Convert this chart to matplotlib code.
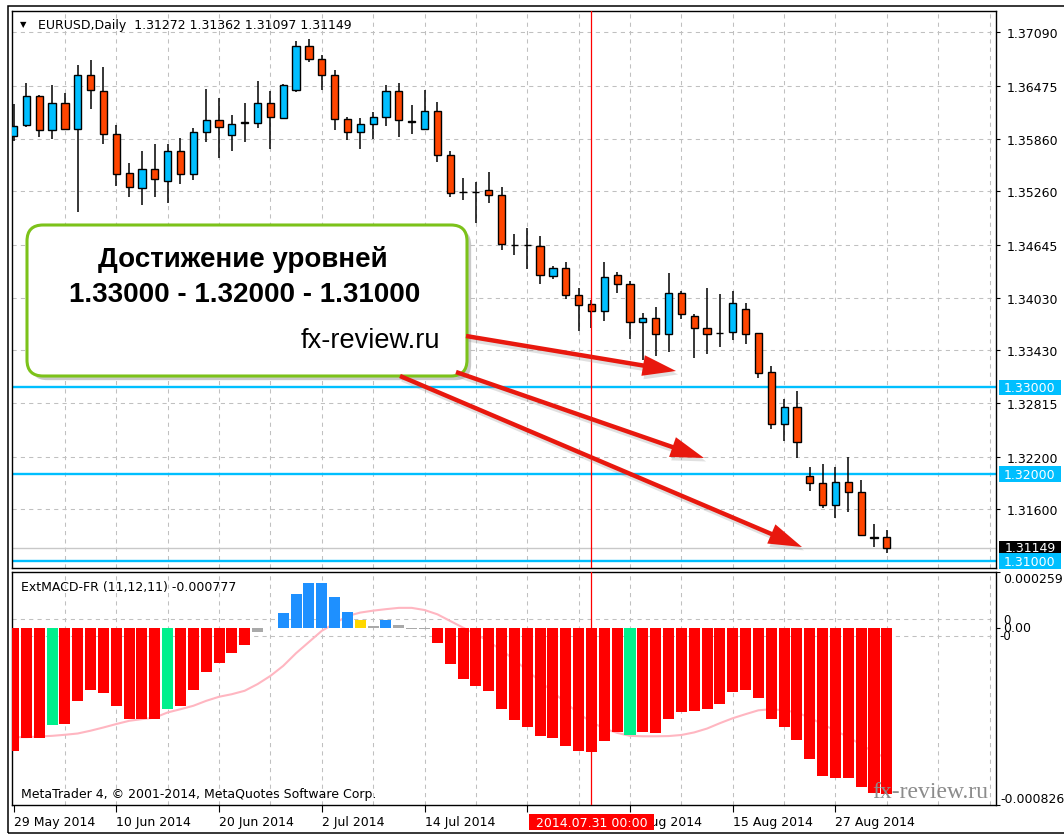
import matplotlib
matplotlib.use("Agg")
import matplotlib.pyplot as plt
import matplotlib.patheffects as pe
from matplotlib.patches import FancyBboxPatch, FancyArrowPatch, Rectangle
from matplotlib.transforms import IdentityTransform, blended_transform_factory

# EURUSD daily bars, 29 May 2014 .. 2 Sep 2014
opens = [1.35898, 1.36017, 1.36353, 1.35968, 1.36280, 1.35979, 1.36595, 1.36410, 1.35921, 1.35467,
         1.35294, 1.35517, 1.35382, 1.35721, 1.35459, 1.35941, 1.36075, 1.35902, 1.36049, 1.36049,
         1.36280, 1.36106, 1.36422, 1.36931, 1.36777, 1.36595, 1.36095, 1.35941, 1.36037, 1.36115,
         1.36410, 1.36064, 1.35979, 1.36184, 1.35671, 1.35247, 1.35247, 1.35274, 1.35220, 1.34642,
         1.34645, 1.34623, 1.34283, 1.34380, 1.34064, 1.33956, 1.33879, 1.34291, 1.34195, 1.33751,
         1.33802, 1.33617, 1.34091, 1.33821, 1.33679, 1.33629, 1.33636, 1.33898, 1.33621, 1.33173,
         1.32577, 1.32780, 1.31983, 1.31895, 1.31644, 1.31906, 1.31798, 1.31265, 1.31272]
highs = [1.36268, 1.36508, 1.36364, 1.36488, 1.36395, 1.36711, 1.36769, 1.36693, 1.36017, 1.35583,
         1.35728, 1.35798, 1.35798, 1.35872, 1.35987, 1.36434, 1.36338, 1.36133, 1.36280, 1.36526,
         1.36415, 1.36500, 1.36993, 1.37012, 1.36827, 1.36653, 1.36115, 1.36103, 1.36172, 1.36488,
         1.36508, 1.36249, 1.36422, 1.36288, 1.35728, 1.35413, 1.35363, 1.35486, 1.35305, 1.34765,
         1.34831, 1.34739, 1.34399, 1.34445, 1.34141, 1.34002, 1.34445, 1.34334, 1.34225, 1.33860,
         1.33925, 1.34314, 1.34110, 1.33840, 1.34149, 1.34072, 1.34110, 1.33976, 1.33629, 1.33243,
         1.32866, 1.32954, 1.32087, 1.32118, 1.32087, 1.32195, 1.31933, 1.31432, 1.31362]
lows = [1.35841, 1.35999, 1.35883, 1.35864, 1.35960, 1.35016, 1.36202, 1.35806, 1.35324, 1.35190,
        1.35101, 1.35190, 1.35124, 1.35343, 1.35393, 1.35826, 1.35641, 1.35728, 1.35826, 1.35987,
        1.35748, 1.36087, 1.36404, 1.36750, 1.36422, 1.35960, 1.35844, 1.35748, 1.35864, 1.36010,
        1.35883, 1.35921, 1.35960, 1.35601, 1.35197, 1.35158, 1.34893, 1.35120, 1.34584, 1.34526,
        1.34361, 1.34195, 1.34245, 1.34022, 1.33647, 1.33687, 1.33763, 1.34083, 1.33560, 1.33320,
        1.33358, 1.33409, 1.33783, 1.33340, 1.33386, 1.33462, 1.33551, 1.33502, 1.33109, 1.32519,
        1.32384, 1.32184, 1.31809, 1.31606, 1.31497, 1.31566, 1.31290, 1.31162, 1.31097]
closes = [1.36014, 1.36353, 1.35968, 1.36280, 1.35979, 1.36595, 1.36430, 1.35921, 1.35459, 1.35305,
          1.35517, 1.35401, 1.35721, 1.35459, 1.35941, 1.36075, 1.35999, 1.36037, 1.36052, 1.36280,
          1.36115, 1.36480, 1.36931, 1.36777, 1.36595, 1.36087, 1.35941, 1.36037, 1.36115, 1.36410,
          1.36075, 1.36062, 1.36184, 1.35682, 1.35236, 1.35249, 1.35245, 1.35220, 1.34650, 1.34645,
          1.34642, 1.34291, 1.34380, 1.34060, 1.33948, 1.33879, 1.34272, 1.34195, 1.33751, 1.33802,
          1.33617, 1.34091, 1.33840, 1.33679, 1.33617, 1.33626, 1.33976, 1.33617, 1.33166, 1.32577,
          1.32780, 1.32376, 1.31895, 1.31644, 1.31906, 1.31798, 1.31297, 1.31272, 1.31149]

# ExtMACD-FR (11,12,11) histogram + signal line
macd_hist = [-0.000573, -0.000514, -0.000514, -0.000454, -0.000447, -0.000341, -0.000290, -0.000304, -0.000364, -0.000425,
             -0.000425, -0.000425, -0.000380, -0.000364, -0.000290, -0.000207, -0.000163, -0.000118, -0.000080, -0.000019,
             -0.000004, 0.000068, 0.000158, 0.000209, 0.000209, 0.000143, 0.000074, 0.000036, 0.000008, 0.000036,
             0.000010, -0.000008, -0.000008, -0.000073, -0.000171, -0.000237, -0.000274, -0.000296, -0.000380, -0.000431,
             -0.000462, -0.000507, -0.000515, -0.000552, -0.000574, -0.000581, -0.000527, -0.000484, -0.000499, -0.000484,
             -0.000491, -0.000425, -0.000394, -0.000387, -0.000380, -0.000356, -0.000298, -0.000290, -0.000327, -0.000425,
             -0.000462, -0.000521, -0.000611, -0.000693, -0.000699, -0.000699, -0.000744, -0.000770, -0.000777]
macd_state = ("rrrg" "rrrrrrrr" "g" "rrrrrr" "nn" "bbbbbb" "y" "n" "b" "nnn"
              "rrrrrrrrrrrrrrr" "g" "rrrrrrrrrrrrrrrrrrrr")
macd_signal = [-0.000510, -0.000510, -0.000507, -0.000504, -0.000499, -0.000493, -0.000480, -0.000465, -0.000449, -0.000434,
               -0.000426, -0.000419, -0.000395, -0.000380, -0.000364, -0.000341, -0.000322, -0.000310, -0.000294, -0.000263,
               -0.000225, -0.000178, -0.000119, -0.000067, -0.000015, 0.000020, 0.000054, 0.000070, 0.000079, 0.000086,
               0.000092, 0.000092, 0.000082, 0.000062, 0.000031, 0.000000, -0.000030, -0.000065, -0.000105, -0.000150,
               -0.000200, -0.000250, -0.000300, -0.000350, -0.000400, -0.000440, -0.000470, -0.000490, -0.000504, -0.000506,
               -0.000506, -0.000505, -0.000500, -0.000488, -0.000470, -0.000445, -0.000422, -0.000403, -0.000385, -0.000380,
               -0.000385, -0.000395, -0.000420, -0.000450, -0.000480, -0.000510, -0.000545, -0.000580, -0.000610]

price_ticks = [1.37090, 1.36475, 1.35860, 1.35260, 1.34645, 1.34030, 1.33430, 1.32815, 1.32200, 1.31600]
levels = [1.33000, 1.32000, 1.31000]
bid = 1.31149
date_ticks = [0, 8, 16, 24, 32, 40, 48, 56, 64]
# the label at 24 Jul sits under the red cursor date box, so it stays blank
date_labels = ["29 May 2014", "10 Jun 2014", "20 Jun 2014", "2 Jul 2014", "14 Jul 2014",
               "", "5 Aug 2014", "15 Aug 2014", "27 Aug 2014"]
cursor_bar = 45
cursor_label = "2014.07.31 00:00"
macd_max, macd_min = 0.000259, -0.000826
macd_levels = [0.000039, -0.000039]

W, H = 1064, 837
BULL, BEAR = "#00bfff", "#ff4500"
LEVEL = "#00bfff"
GRID = "#c0c0c0"
state_colors = {"r": "#ff0000", "g": "#00f08c", "b": "#1e90ff", "y": "#ffd700", "n": "#a9a9a9"}

plt.rcParams["font.family"] = ["DejaVu Sans"]
plt.rcParams["font.size"] = 9

fig = plt.figure(figsize=(W / 100, H / 100), dpi=100)
fig.patch.set_facecolor("white")


def px_box(l, t, r, b):
    return [l / W, 1 - b / H, (r - l) / W, (b - t) / H]


ax = fig.add_axes(px_box(12, 12, 996, 569))
ax2 = fig.add_axes(px_box(12, 573, 996, 806))
x = list(range(len(opens)))

for a in (ax, ax2):
    a.set_xlim(-0.12, 76.5)
    for s in a.spines.values():
        s.set_linewidth(1.0)
        s.set_color("black")
    for xg in range(4, 77, 4):
        a.axvline(xg, color=GRID, lw=0.75, ls=(0, (4, 4)), zorder=0)
    a.axvline(cursor_bar, color="red", lw=0.9, zorder=6)

# --- price panel ---
ax.set_ylim(1.30920, 1.37335)
for p in price_ticks:
    ax.axhline(p, color=GRID, lw=0.75, ls=(0, (4, 4)), zorder=0)
for lv in levels:
    ax.axhline(lv, color=LEVEL, lw=1.7, zorder=2)
ax.axhline(bid, color="#c8c8c8", lw=1.0, zorder=2)

ax.vlines(x, lows, highs, color="black", lw=1.1, zorder=3)
bodies = [c - o for o, c in zip(opens, closes)]
body_cols = [BULL if c >= o else BEAR for o, c in zip(opens, closes)]
ax.bar(x, bodies, bottom=opens, width=0.56, color=body_cols, edgecolor="black", lw=1.0, zorder=4)

ax.set_xticks([])
ax.yaxis.tick_right()
ax.set_yticks(price_ticks)
ax.set_yticklabels([f"{p:.5f}" for p in price_ticks])
ax.tick_params(axis="y", direction="out", length=3, width=0.8, pad=4.5, labelsize=9)

yb = blended_transform_factory(ax.transAxes, ax.transData)
ax.add_patch(Rectangle((1.003, bid - 0.00078), 0.063, 0.00156, transform=yb,
                       fc="black", ec="none", clip_on=False, zorder=9))
ax.text(1.0345, bid + 0.0001, f"{bid:.5f}", transform=yb, ha="center", va="center",
        color="white", fontsize=9, clip_on=False, zorder=10)
for lv in levels:
    ax.add_patch(Rectangle((1.003, lv - 0.0009), 0.063, 0.0018, transform=yb,
                           fc=LEVEL, ec="none", clip_on=False, zorder=11))
    ax.text(1.0345, lv, f"{lv:.5f}", transform=yb, ha="center", va="center",
            color="white", fontsize=9, clip_on=False, zorder=12)

# --- MACD panel ---
ax2.set_ylim(macd_min, macd_max)
for lv in macd_levels:
    ax2.axhline(lv, color=GRID, lw=0.75, ls=(0, (4, 4)), zorder=0)
ax2.plot(x, macd_signal, color="#ffb6c1", lw=1.5, zorder=2)
ax2.bar(x, macd_hist, width=0.86, color=[state_colors[s] for s in macd_state], zorder=3)

ax2.yaxis.tick_right()
ax2.set_yticks([macd_max, 0, macd_min])
ax2.set_yticklabels([])
ax2.tick_params(axis="y", direction="out", length=3, width=0.8)
ax2.set_xticks(date_ticks)
ax2.set_xticklabels(date_labels, ha="left")
ax2.tick_params(axis="x", direction="out", length=5, width=0.8, pad=2, labelsize=9)

yb2 = blended_transform_factory(ax2.transAxes, ax2.transData)
ax2.text(1.0075, macd_max, f"{macd_max:.6f}", transform=yb2, ha="left", va="top", fontsize=9, clip_on=False)
ax2.text(1.0045, macd_min, f"{macd_min:.6f}", transform=yb2, ha="left", va="bottom", fontsize=9, clip_on=False)
ax2.text(1.0075, macd_levels[0], "0", transform=yb2, ha="left", va="center", fontsize=8.5, clip_on=False)
ax2.text(1.0075, 0, "0.00", transform=yb2, ha="left", va="center", fontsize=9, clip_on=False)
ax2.text(1.0035, macd_levels[1], "-0", transform=yb2, ha="left", va="center", fontsize=8.5, clip_on=False)

xb2 = blended_transform_factory(ax2.transData, ax2.transAxes)
ax2.add_patch(Rectangle((cursor_bar - 4.87, -0.109), 9.74, 0.071, transform=xb2,
                        fc="red", ec="none", clip_on=False, zorder=9))
ax2.text(cursor_bar, -0.0735, cursor_label, transform=xb2, ha="center", va="center",
         color="white", fontsize=9, clip_on=False, zorder=10)

# --- texts ---
fig.text(20 / W, 1 - 25 / H, "\u25bc", fontsize=6, va="center")
fig.text(38 / W, 1 - 26 / H, "EURUSD,Daily  1.31272 1.31362 1.31097 1.31149", va="center", fontsize=9)
fig.text(21 / W, 1 - 587 / H, "ExtMACD-FR (11,12,11) -0.000777", va="center", fontsize=9)
fig.text(21 / W, 1 - 795 / H, "MetaTrader 4, \u00a9 2001-2014, MetaQuotes Software Corp.", va="center", fontsize=9)
fig.text(872 / W, 1 - 798 / H, "fx-review.ru", family="Liberation Serif", fontsize=17,
         color="#8c8c8c", va="baseline")

disp = IdentityTransform()
fig.add_artist(Rectangle((8, 3), 1100, 827, transform=disp, fill=False, ec="black", lw=1.1))

# callout box
box = FancyBboxPatch((27, H - 377), 440, 151, boxstyle="round,pad=0,rounding_size=16",
                     transform=disp, fc="white", ec="#7cc21a", lw=2.2, zorder=20,
                     path_effects=[pe.SimplePatchShadow(offset=(3, -3), shadow_rgbFace="#888888", alpha=0.45),
                                   pe.Normal()])
fig.add_artist(box)
fig.text(243 / W, 1 - 267 / H, "Достижение уровней", ha="center", va="baseline",
         family="Liberation Sans", fontsize=20, fontweight="bold", zorder=21)
fig.text(245 / W, 1 - 301.5 / H, "1.33000 - 1.32000 - 1.31000", ha="center", va="baseline",
         family="Liberation Sans", fontsize=20, fontweight="bold", zorder=21)
fig.text(440 / W, 1 - 348 / H, "fx-review.ru", ha="right", va="baseline",
         family="Liberation Sans", fontsize=19.5, zorder=21)

arrows = [((466, 337), (676, 372)), ((456, 373), (704, 459)), ((400, 377), (802, 548))]
for (x0, y0), (x1, y1) in arrows:
    arr = FancyArrowPatch((x0, H - y0), (x1, H - y1), transform=disp,
                          arrowstyle="simple,head_length=24,head_width=15,tail_width=3.2",
                          mutation_scale=1, shrinkA=0, shrinkB=0, color="#e8180e", lw=0, zorder=22,
                          path_effects=[pe.SimplePatchShadow(offset=(1.5, -2.5), shadow_rgbFace="#999999", alpha=0.3),
                                        pe.Normal()])
    fig.add_artist(arr)

fig.savefig("out.png", dpi=100, facecolor="white")
